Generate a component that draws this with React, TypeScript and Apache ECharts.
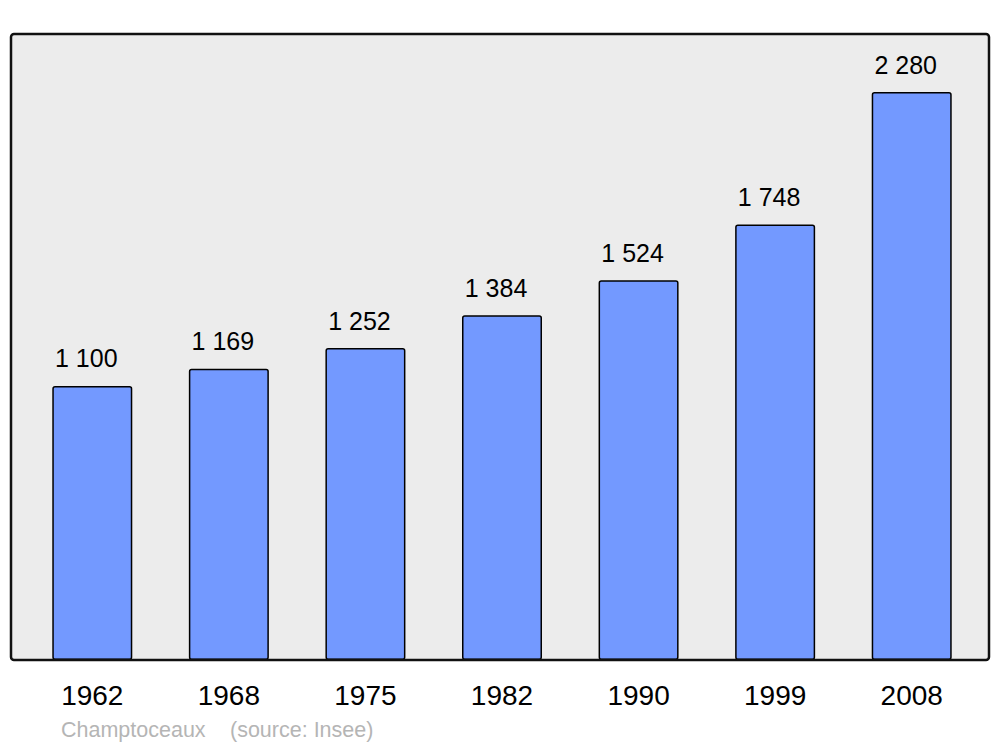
import React, { useEffect, useRef } from "react";
import * as echarts from "echarts";

const years = ["1962", "1968", "1975", "1982", "1990", "1999", "2008"];
const population = [1100, 1169, 1252, 1384, 1524, 1748, 2280];
const commune = "Champtoceaux";
const source = "(source: Insee)";

const fmt = (v: number) => String(v).replace(/\B(?=(\d{3})+(?!\d))/g, " ");
const FONT = "Liberation Sans, Arial, sans-serif";

export default function App() {
  const ref = useRef<HTMLDivElement>(null);
  useEffect(() => {
    document.body.style.margin = "0";
    const chart = echarts.init(ref.current!, null, { renderer: "svg" });
    chart.setOption({
      animation: false,
      textStyle: { fontFamily: FONT },
      grid: { left: 24, right: 20, top: 34, bottom: 87 },
      xAxis: {
        type: "category",
        data: years,
        axisLine: { show: false },
        axisTick: { show: false },
        axisLabel: {
          fontSize: 28,
          color: "#000",
          margin: 21,
          fontFamily: FONT,
        },
      },
      yAxis: {
        type: "value",
        min: 0,
        max: 2513,
        show: false,
        splitLine: { show: false },
      },
      graphic: [
        {
          type: "rect",
          z: -10,
          silent: true,
          shape: { x: 11, y: 34, width: 978, height: 626, r: 3 },
          style: { fill: "#ececec", stroke: "none" },
        },
        {
          type: "rect",
          z: 100,
          silent: true,
          shape: { x: 11, y: 34, width: 978, height: 626, r: 3 },
          style: { fill: "none", stroke: "#111", lineWidth: 2.5 },
        },
        {
          type: "text",
          left: 61,
          top: 719,
          style: { text: commune, fontSize: 21.5, fill: "#b5b5b5", fontFamily: FONT },
        },
        {
          type: "text",
          left: 230,
          top: 719,
          style: { text: source, fontSize: 21.5, fill: "#b5b5b5", fontFamily: FONT },
        },
      ],
      series: [
        {
          type: "bar",
          data: population,
          barWidth: 80,
          itemStyle: {
            color: "#7399ff",
            borderColor: "#000",
            borderWidth: 1.5,
            borderRadius: 2,
          },
          label: {
            show: true,
            position: "top",
            distance: 15,
            offset: [-6, 0],
            fontSize: 25,
            color: "#000",
            fontFamily: FONT,
            formatter: (p: any) => fmt(p.value),
          },
        },
      ],
    });
    return () => chart.dispose();
  }, []);
  return <div ref={ref} style={{ width: 1000, height: 747 }} />;
}
